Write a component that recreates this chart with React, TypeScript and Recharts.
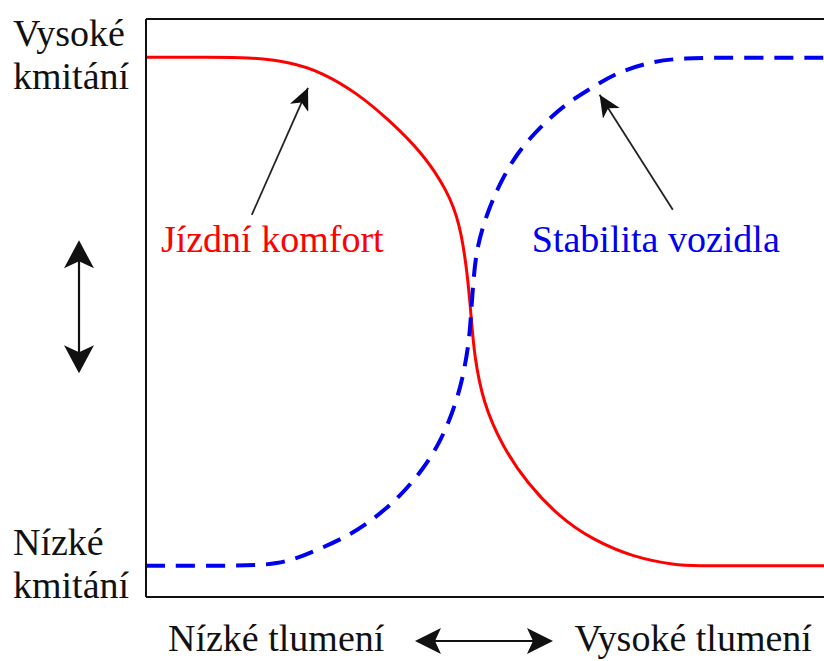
import React from 'react';
import { LineChart, Line, XAxis, YAxis, ReferenceLine, ReferenceDot } from 'recharts';

// Ride comfort (solid red)
const comfortX = [0, 10, 14.8, 21.2, 26.1, 31.1, 35.9, 40.8, 44.4, 46.3, 47.4, 48.0, 48.4, 49.7, 52.6, 56.2, 61.0, 65.9, 71.8, 78.3, 80.7, 90, 100];
const comfortY = [93.4, 93.4, 93.4, 92.6, 90.7, 87.2, 82.5, 76.8, 70.4, 64.7, 56.1, 48.0, 42.0, 33.6, 26.0, 19.7, 13.8, 9.9, 6.9, 5.5, 5.4, 5.4, 5.4];

// Vehicle stability (dashed blue)
const stabilityX = [0, 12, 19.7, 24.6, 29.6, 33.4, 37.4, 40.8, 43.3, 45.2, 46.7, 47.7, 48.0, 48.3, 48.8, 50.3, 52.2, 54.7, 58.1, 62.1, 65.9, 69.4, 73.9, 78.3, 90, 100];
const stabilityY = [5.4, 5.4, 5.5, 7.8, 10.4, 13.3, 17.3, 22.0, 26.6, 31.8, 37.5, 44.5, 50.0, 55.0, 60.6, 66.4, 71.6, 76.8, 81.3, 85.5, 88.2, 90.7, 92.4, 93.3, 93.3, 93.3];

const yTicks = [5.4, 50.3, 93.4];
const yTickLabels = ['Nízké kmitání', '', 'Vysoké kmitání'];
const xTicks = [19.2, 49.85, 80.7];
const xTickLabels = ['Nízké tlumení', '', 'Vysoké tlumení'];
const seriesNames = ['Jízdní komfort', 'Stabilita vozidla'];

const comfortData = comfortX.map((x, i) => ({ x, y: comfortY[i] }));
const stabilityData = stabilityX.map((x, i) => ({ x, y: stabilityY[i] }));

const FONT = '"Liberation Serif", "Times New Roman", serif';
const RED = '#ff0000';
const BLUE = '#0000f0';
const INK = '#111';

const YTick = (props: any) => {
  const { x, y, payload } = props;
  const idx = yTicks.indexOf(payload.value);
  const label = yTickLabels[idx] ?? '';
  if (!label) {
    const ax = x - 67;
    return (
      <g>
        <line x1={ax} y1={y - 52} x2={ax} y2={y + 52} stroke={INK} strokeWidth={2.2} />
        <path d={`M${ax},${y - 66} L${ax + 15},${y - 38} L${ax},${y - 45} L${ax - 15},${y - 38} Z`} fill={INK} />
        <path d={`M${ax},${y + 67} L${ax + 15},${y + 39} L${ax},${y + 46} L${ax - 15},${y + 39} Z`} fill={INK} />
      </g>
    );
  }
  const [l1, l2] = label.split(' ');
  return (
    <text x={x - 133} y={y} fontFamily={FONT} fontSize={38} fill={INK} textAnchor="start">
      <tspan x={x - 133} y={y - 11}>{l1}</tspan>
      <tspan x={x - 133} y={y + 32}>{l2}</tspan>
    </text>
  );
};

const XTick = (props: any) => {
  const { x, y, payload } = props;
  const idx = xTicks.indexOf(payload.value);
  const label = xTickLabels[idx] ?? '';
  if (!label) {
    const ay = y + 44;
    return (
      <g>
        <line x1={x - 55} y1={ay} x2={x + 55} y2={ay} stroke={INK} strokeWidth={2.2} />
        <path d={`M${x - 69},${ay} L${x - 43},${ay - 13} L${x - 49},${ay} L${x - 43},${ay + 13} Z`} fill={INK} />
        <path d={`M${x + 69},${ay} L${x + 43},${ay - 13} L${x + 49},${ay} L${x + 43},${ay + 13} Z`} fill={INK} />
      </g>
    );
  }
  return (
    <text x={x} y={y + 54} fontFamily={FONT} fontSize={38} fill={INK} textAnchor="middle">
      {label}
    </text>
  );
};

const arrowShape = (p: any) => (
  <line x1={p.x1} y1={p.y1} x2={p.x2} y2={p.y2} stroke="#222" strokeWidth={1.8} markerEnd="url(#arrowHead)" />
);

const textLabel = (text: string, color: string) => (p: any) => {
  const vb = p.viewBox || {};
  return (
    <text x={vb.x} y={vb.y} fontFamily={FONT} fontSize={38} fill={color} textAnchor="start">
      {text}
    </text>
  );
};

export default function App() {
  return (
    <div style={{ position: 'absolute', left: 0, top: 0, width: 824, height: 661, background: '#fff' }}>
      <LineChart width={824} height={661} margin={{ top: 19, right: 0, bottom: 0, left: 0 }}>
        <defs>
          <marker id="arrowHead" markerWidth={24} markerHeight={20} refX={22} refY={10} orient="auto" markerUnits="userSpaceOnUse">
            <path d="M0,0 L22,10 L0,20 L6,10 Z" fill={INK} />
          </marker>
        </defs>
        <XAxis
          dataKey="x"
          type="number"
          domain={[0, 100]}
          ticks={xTicks}
          interval={0}
          tick={<XTick />}
          tickLine={false}
          tickSize={0}
          tickMargin={0}
          axisLine={{ stroke: INK, strokeWidth: 2 }}
          height={64}
          allowDataOverflow
        />
        <YAxis
          dataKey="y"
          type="number"
          domain={[0, 100]}
          ticks={yTicks}
          interval={0}
          tick={<YTick />}
          tickLine={false}
          tickSize={0}
          tickMargin={0}
          axisLine={{ stroke: INK, strokeWidth: 2 }}
          width={146}
          allowDataOverflow
        />
        <ReferenceLine y={100} stroke={INK} strokeWidth={2} />
        <Line data={comfortData} dataKey="y" type="basis" stroke={RED} strokeWidth={3} dot={false} isAnimationActive={false} />
        <Line data={stabilityData} dataKey="y" type="basis" stroke={BLUE} strokeWidth={4} strokeDasharray="19 11" dot={false} isAnimationActive={false} />
        <ReferenceLine segment={[{ x: 15.6, y: 66.1 }, { x: 23.9, y: 88.1 }]} shape={arrowShape} />
        <ReferenceLine segment={[{ x: 77.7, y: 67.0 }, { x: 66.9, y: 86.9 }]} shape={arrowShape} />
        <ReferenceDot x={2.2} y={59.7} r={0} fill="none" stroke="none" label={{ content: textLabel(seriesNames[0], RED) }} />
        <ReferenceDot x={56.9} y={59.7} r={0} fill="none" stroke="none" label={{ content: textLabel(seriesNames[1], BLUE) }} />
      </LineChart>
    </div>
  );
}
